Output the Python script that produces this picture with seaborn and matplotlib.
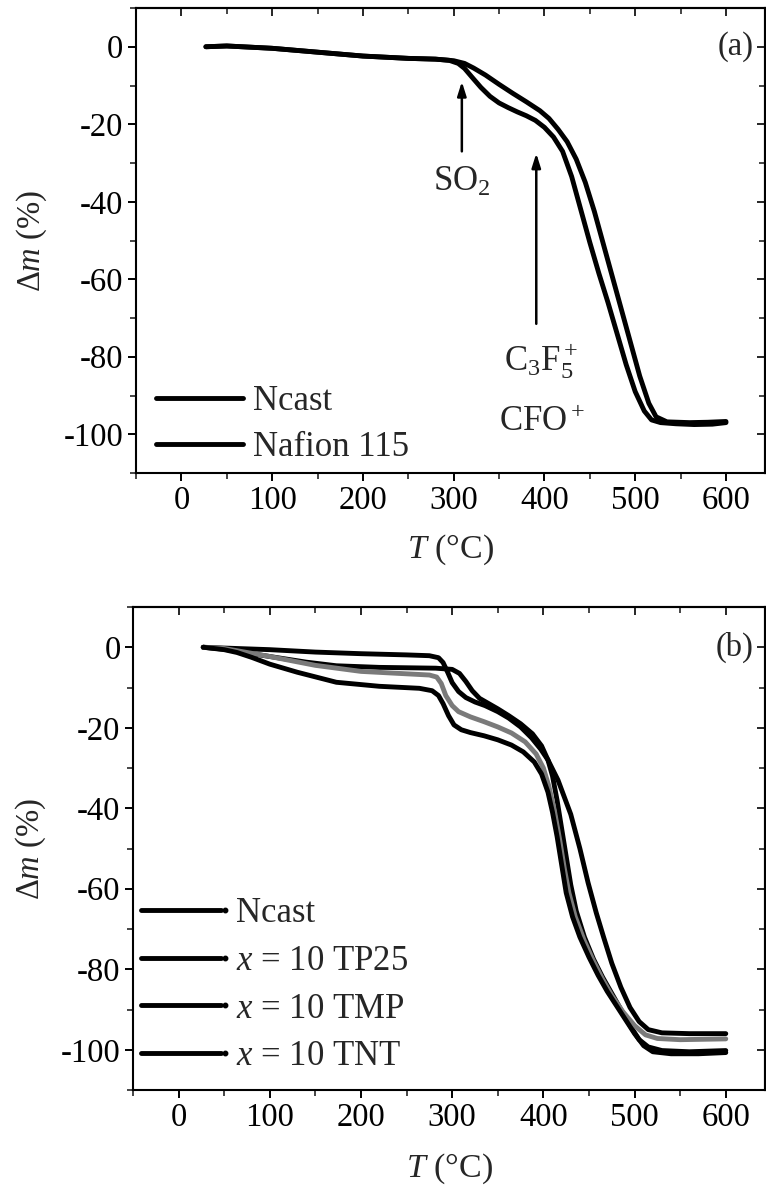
import numpy as np
import pandas as pd
import matplotlib
matplotlib.use("Agg")
import matplotlib.pyplot as plt
from matplotlib.lines import Line2D
from matplotlib.legend_handler import HandlerBase
from matplotlib.ticker import MultipleLocator
import seaborn as sns

# ---------------- panel (a): TGA of cast Nafion and Nafion 115 ----------------
t_ncast_a = [27, 50, 100, 150, 200, 250, 280, 295, 305, 312, 320, 330, 340, 350, 360,
             370, 380, 390, 400, 410, 420, 430, 440, 450, 460, 470, 480, 490, 500, 510,
             518, 528, 545, 565, 585, 600]
dm_ncast_a = [0, 0.2, -0.4, -1.4, -2.4, -3.0, -3.2, -3.5, -4.3, -5.6, -7.8, -10.5, -12.8,
              -14.5, -15.7, -16.8, -17.8, -19.0, -20.8, -23.3, -27, -33.5, -42, -50.5,
              -58.5, -66, -74, -82, -89, -94, -96.3, -97, -97.3, -97.5, -97.4, -97]

t_n115_a = [27, 50, 100, 150, 200, 250, 280, 300, 312, 322, 335, 350, 365, 380, 395,
            405, 415, 425, 435, 445, 455, 465, 475, 485, 495, 505, 515, 523, 535, 560,
            580, 600]
dm_n115_a = [0, 0.2, -0.4, -1.4, -2.4, -3.0, -3.2, -3.6, -4.3, -5.5, -7.3, -9.7, -12,
             -14.2, -16.5, -18.5, -21.3, -24.5, -29, -35, -42.5, -51, -59.5, -68, -76.5,
             -85, -92, -95.5, -96.8, -97, -96.9, -96.7]

labels_a = ["Ncast", "Nafion 115"]

# ---------------- panel (b): composite membranes, x = 10 ----------------
t_ncast_b = [27, 50, 100, 150, 200, 250, 275, 285, 290, 295, 300, 307, 315, 325, 336,
             350, 362, 375, 387, 397, 405, 416, 430, 440, 449, 458, 466, 475, 485, 495,
             505, 515, 530, 560, 600]
dm_ncast_b = [0, -0.2, -0.6, -1.2, -1.6, -1.9, -2.1, -2.6, -3.8, -6.2, -8.8, -11, -12.5,
              -13.6, -14.5, -16, -17.6, -19.8, -22.5, -25.3, -28, -33, -41.5, -50, -58.5,
              -66, -72, -78.5, -84.5, -89.5, -93, -95, -95.8, -96, -96]

t_tp25_b = [27, 50, 64, 100, 140, 173, 220, 282, 300, 308, 315, 322, 330, 340, 350,
            362, 375, 388, 398, 405, 410, 415, 420, 425, 430, 436, 445, 455, 465, 475,
            485, 495, 505, 515, 530, 560, 600]
dm_tp25_b = [0, -0.5, -1, -2.3, -3.7, -4.6, -5.0, -5.2, -5.5, -6.5, -8.5, -10.8, -12.7,
             -14, -15.3, -17, -19, -21.5, -24.5, -28, -32, -38, -45, -52, -59, -65.5,
             -72, -77.5, -82, -86, -90, -94, -97.5, -99.3, -100.2, -100.5, -100.2]

t_tmp_b = [27, 50, 100, 150, 200, 250, 275, 283, 288, 293, 300, 307, 320, 335, 350,
           365, 380, 392, 400, 406, 412, 418, 423, 428, 435, 445, 455, 465, 475, 487,
           500, 512, 525, 550, 600]
dm_tmp_b = [0, -0.3, -2.3, -4.5, -6, -6.6, -6.9, -7.4, -9, -12, -14.5, -16, -17.3,
            -18.5, -19.8, -21.3, -23.5, -26.5, -30, -34.5, -40.5, -48, -55, -61, -67,
            -73, -78, -82.5, -86.5, -90.5, -94, -96.3, -97.2, -97.5, -97.3]

t_tnt_b = [27, 50, 64, 80, 100, 130, 173, 220, 264, 278, 285, 290, 296, 302, 310, 320,
           335, 350, 365, 378, 390, 398, 405, 410, 415, 420, 425, 432, 440, 450, 460,
           470, 480, 490, 500, 510, 520, 540, 570, 600]
dm_tnt_b = [0, -0.6, -1.3, -2.5, -4.2, -6.2, -8.7, -9.7, -10.2, -10.8, -12, -14, -17,
            -19.3, -20.5, -21.2, -22, -23, -24.3, -26, -28.5, -31.5, -36, -41, -47, -54,
            -61, -67, -72, -77, -81.5, -85.5, -89, -92.5, -96, -99, -100.5, -101, -101,
            -100.7]

labels_b = ["Ncast", "$x$ = 10 TP25", "$x$ = 10 TMP", "$x$ = 10 TNT"]
colors_b = ["black", "black", "#7a7a7a", "black"]

x_ticks = [0, 100, 200, 300, 400, 500, 600]
y_ticks = [0, -20, -40, -60, -80, -100]

# ---------------- style ----------------
sns.set_theme(style="ticks")
plt.rcParams["font.family"] = ["Liberation Serif", "DejaVu Serif"]
plt.rcParams["mathtext.fontset"] = "custom"
plt.rcParams["mathtext.rm"] = "Liberation Serif"
plt.rcParams["mathtext.it"] = "Liberation Serif:italic"
plt.rcParams["mathtext.bf"] = "Liberation Serif:bold"
plt.rcParams["axes.linewidth"] = 1.5

FS = 23.5
FS_TXT = 25
LW = 3.5

W, H = 766, 1192
fig = plt.figure(figsize=(W / 100, H / 100), dpi=100)
ax_a = fig.add_axes([136 / W, 1 - 473 / H, 629 / W, 465 / H])
ax_b = fig.add_axes([133 / W, 1 - 1090 / H, 632 / W, 483 / H])


def long_frame(ts, dms, names):
    parts = []
    for t, d, n in zip(ts, dms, names):
        parts.append(pd.DataFrame({"T": t, "dm": d, "sample": n}))
    return pd.concat(parts, ignore_index=True)


df_a = long_frame([t_ncast_a, t_n115_a], [dm_ncast_a, dm_n115_a], labels_a)
df_b = long_frame([t_ncast_b, t_tp25_b, t_tmp_b, t_tnt_b],
                  [dm_ncast_b, dm_tp25_b, dm_tmp_b, dm_tnt_b], labels_b)

sns.lineplot(data=df_a, x="T", y="dm", hue="sample", palette=["black", "black"],
             estimator=None, sort=False, lw=LW, ax=ax_a, legend=False)
sns.lineplot(data=df_b, x="T", y="dm", hue="sample", palette=colors_b,
             estimator=None, sort=False, lw=LW, ax=ax_b, legend=False)


def style_axes(ax):
    ax.set_xlim(-50, 643)
    ax.set_ylim(-110, 10)
    ax.set_xticks(x_ticks)
    ax.set_yticks(y_ticks)
    ax.set_xticklabels([str(v) for v in x_ticks])
    ax.set_yticklabels([str(v) for v in y_ticks])
    ax.xaxis.set_minor_locator(MultipleLocator(50))
    ax.yaxis.set_minor_locator(MultipleLocator(10))
    ax.tick_params(which="major", direction="out", length=6, width=1.4,
                   labelsize=FS, colors="black", pad=3)
    ax.tick_params(which="minor", direction="out", length=4, width=1.2)
    for s in ax.spines.values():
        s.set_color("black")
        s.set_linewidth(1.5)
    top = ax.secondary_xaxis("top")
    top.set_xticks(x_ticks)
    top.xaxis.set_minor_locator(MultipleLocator(50))
    top.tick_params(which="major", direction="in", length=6, width=1.4, labeltop=False)
    top.tick_params(which="minor", direction="in", length=4, width=1.2)
    right = ax.secondary_yaxis("right")
    right.set_yticks(y_ticks)
    right.yaxis.set_minor_locator(MultipleLocator(10))
    right.tick_params(which="major", direction="in", length=6, width=1.4, labelright=False)
    right.tick_params(which="minor", direction="in", length=4, width=1.2)
    ax.set_xlabel("$T$ (°C)", fontsize=FS + 1)
    ax.set_ylabel("Δ$m$ (%)", fontsize=FS)
    ax.grid(False)


style_axes(ax_a)
style_axes(ax_b)
ax_a.xaxis.set_label_coords(0.5, -0.128)
ax_b.xaxis.set_label_coords(0.5, -0.128)
ax_a.yaxis.set_label_coords(-0.138, 0.5)
ax_b.yaxis.set_label_coords(-0.134, 0.5)

ax_a.text(630, 0, "(a)", ha="right", va="center", fontsize=FS)
ax_b.text(630, 0, "(b)", ha="right", va="center", fontsize=FS)

# decomposition annotations in (a)
arrow_kw = dict(arrowstyle="-|>,head_length=0.7,head_width=0.22", lw=1.8,
                color="black", shrinkA=0, shrinkB=0)
ax_a.annotate("", xy=(309, -9), xytext=(309, -27), arrowprops=arrow_kw)
ax_a.text(309, -35, "SO$_2$", ha="center", va="center", fontsize=FS_TXT)
ax_a.annotate("", xy=(391, -27.5), xytext=(391, -71.5), arrowprops=arrow_kw)
ax_a.text(396, -81, "C$_3$F$_5^+$", ha="center", va="center", fontsize=FS_TXT)
ax_a.text(397, -97, "CFO$^+$", ha="center", va="center", fontsize=FS_TXT)

# legends
handles_a = [Line2D([], [], color="black", lw=LW) for _ in labels_a]
ax_a.legend(handles_a, labels_a, loc="lower left", bbox_to_anchor=(0.032, 0.02),
            frameon=False, fontsize=FS_TXT, handlelength=2.5, handletextpad=0.28,
            labelspacing=0.36, borderpad=0, borderaxespad=0)


class HandlerLineDot(HandlerBase):
    def create_artists(self, legend, orig_handle, xdescent, ydescent, width, height,
                       fontsize, trans):
        y = height / 2 - ydescent
        line = Line2D([-xdescent, width - xdescent], [y, y], color=orig_handle.get_color(),
                      lw=orig_handle.get_linewidth(), transform=trans)
        dot = Line2D([width - xdescent + 3], [y], marker="o", ms=3.2, color="black",
                     ls="", transform=trans)
        return [line, dot]


handles_b = [Line2D([], [], color="black", lw=LW) for _ in labels_b]
ax_b.legend(handles_b, labels_b, loc="lower left", bbox_to_anchor=(0.013, 0.035),
            frameon=False, fontsize=FS_TXT, handlelength=2.3, handletextpad=0.42,
            labelspacing=0.42, borderpad=0, borderaxespad=0,
            handler_map={Line2D: HandlerLineDot()})

fig.savefig("out.png", dpi=100, facecolor="white")
